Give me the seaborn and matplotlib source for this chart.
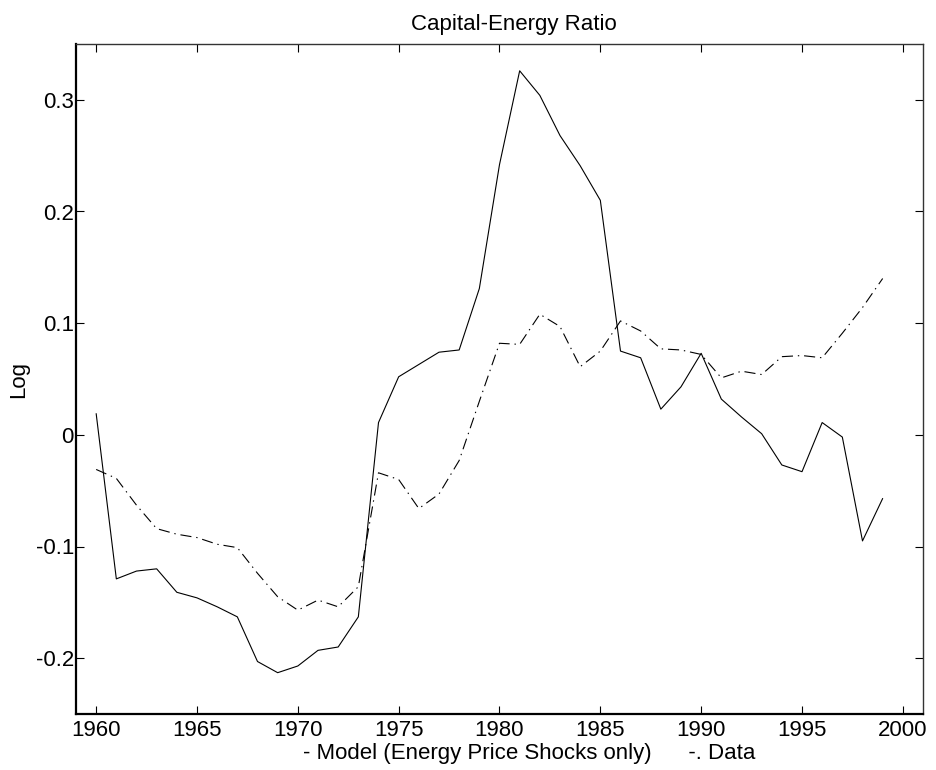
import numpy as np
import pandas as pd
import seaborn as sns
import matplotlib.pyplot as plt
from matplotlib.ticker import FuncFormatter

# years 1960-1999
years = list(range(1960, 2000))

# model (energy price shocks only)
model = [0.019, -0.129, -0.122, -0.120, -0.141, -0.146, -0.154, -0.163, -0.203, -0.213,
         -0.207, -0.193, -0.190, -0.163, 0.011, 0.052, 0.063, 0.074, 0.076, 0.131,
         0.242, 0.326, 0.304, 0.268, 0.241, 0.210, 0.075, 0.069, 0.023, 0.043,
         0.073, 0.032, 0.016, 0.001, -0.027, -0.033, 0.011, -0.002, -0.095, -0.057]

# data
data_vals = [-0.031, -0.039, -0.063, -0.084, -0.089, -0.092, -0.098, -0.101, -0.124, -0.145,
             -0.157, -0.148, -0.154, -0.136, -0.034, -0.040, -0.066, -0.053, -0.023, 0.030,
             0.082, 0.081, 0.108, 0.097, 0.061, 0.075, 0.102, 0.093, 0.077, 0.076,
             0.072, 0.051, 0.057, 0.054, 0.070, 0.071, 0.069, 0.091, 0.114, 0.140]

xticks = [1960, 1965, 1970, 1975, 1980, 1985, 1990, 1995, 2000]
yticks = [-0.2, -0.1, 0, 0.1, 0.2, 0.3]

df = pd.DataFrame({
    'year': years * 2,
    'value': model + data_vals,
    'series': ['Model'] * len(years) + ['Data'] * len(years),
})

sns.set_style('ticks')
plt.rcParams['font.family'] = ['Liberation Sans', 'DejaVu Sans']
plt.rcParams['lines.scale_dashes'] = False
plt.rcParams['text.color'] = 'black'
plt.rcParams['axes.labelcolor'] = 'black'

fig = plt.figure(figsize=(9.36, 7.7), dpi=100)
ax = fig.add_axes([76/936, 1 - 714/770, 847/936, 670/770])

sns.lineplot(data=df, x='year', y='value', style='series', color='black',
             dashes={'Model': '', 'Data': (8, 3.5, 1, 3.5)},
             linewidth=0.8, legend=False, ax=ax)

ax.set_xlim(1959, 2001)
ax.set_ylim(-0.25, 0.35)
ax.set_xticks(xticks)
ax.set_yticks(yticks)
ax.yaxis.set_major_formatter(FuncFormatter(lambda v, p: '%g' % round(v, 2)))

ax.tick_params(direction='in', length=6, width=0.8, labelsize=16,
               top=True, right=True, colors='black')
ax.tick_params(axis='y', pad=1.5)
ax.tick_params(axis='x', pad=4)

for side in ['left', 'bottom']:
    ax.spines[side].set_linewidth(1.6)
    ax.spines[side].set_color('black')
for side in ['top', 'right']:
    ax.spines[side].set_linewidth(1.0)
    ax.spines[side].set_color('#333333')

ax.set_ylabel('Log', fontsize=16, color='black')
ax.yaxis.set_label_coords(-0.055, 0.5)
ax.set_xlabel('- Model (Energy Price Shocks only)      -. Data', fontsize=16,
              ha='left', color='black')
ax.xaxis.set_label_coords((303 - 76) / 847, -0.043)

fig.text(514/936, 1 - 30/770, 'Capital-Energy Ratio', fontsize=16,
         ha='center', va='baseline', color='black')

fig.savefig('out.png', dpi=100)
